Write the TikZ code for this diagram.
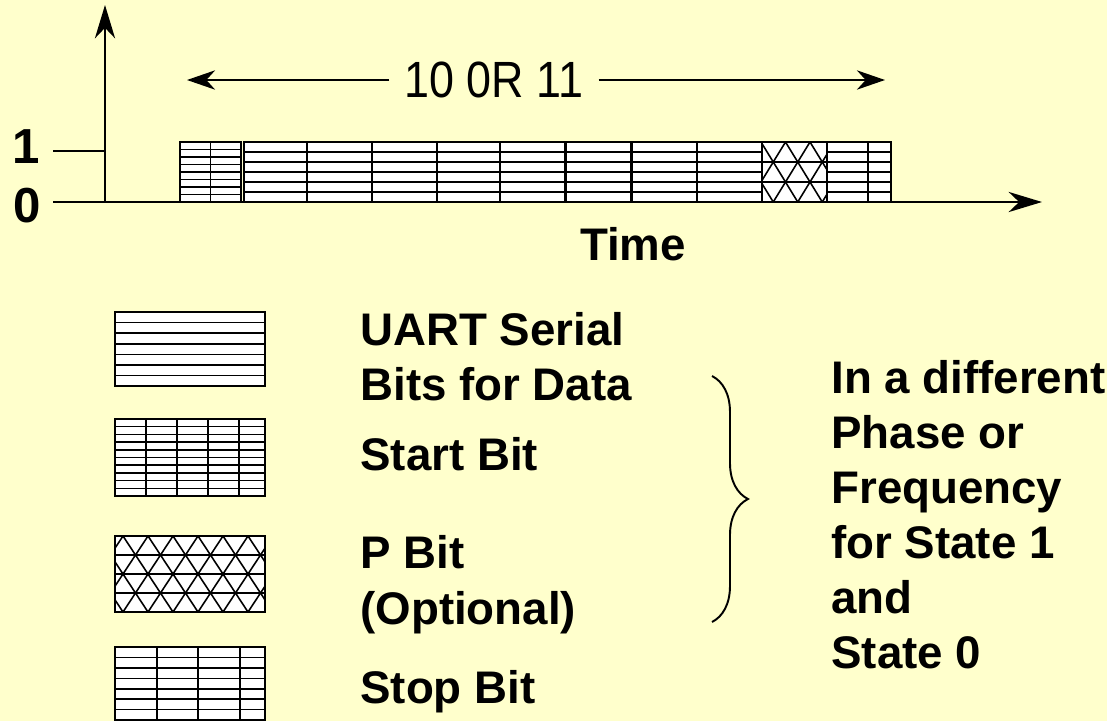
\documentclass[tikz,border=0pt]{standalone}
\usepackage{fontspec}
\setmainfont{Liberation Sans}
\newfontfamily\narrowfont[FakeStretch=0.88]{Liberation Sans}
\usetikzlibrary{arrows.meta,decorations.pathreplacing}
\definecolor{paper}{HTML}{FFFFCC}

\begin{document}
\begin{tikzpicture}
	[x=0.02cm,y=0.02cm,
		axis/.style={line width=1.1pt,-{Stealth[length=19pt,width=11.5pt,inset=6pt]}},
		spanarrow/.style={line width=1pt,-{Stealth[length=16pt,width=11pt,inset=5pt]}},
		cell/.style={draw,line width=1.6pt,fill=white},
		outline/.style={draw,line width=1.6pt},
		grid/.style={line width=0.9pt},
		txt/.style={font=\bfseries\fontsize{26}{30}\selectfont,anchor=base west,inner sep=0pt},
		digit/.style={font=\bfseries\fontsize{28}{32}\selectfont,anchor=base,inner sep=0pt}]

	\fill[paper] (0,0) rectangle (1107,-721);
	\useasboundingbox (0,0) rectangle (1107,-721);

	% axes
	\coordinate (origin) at (105,-202);
	\coordinate (ytip) at (105,-5);
	\coordinate (xstart) at (53,-202);
	\coordinate (xtip) at (1042,-202);
	\coordinate (onetick) at (53,-151);
	\coordinate (oneaxis) at (105,-151);
	\draw[axis] (origin) -- (ytip);
	\draw[axis] (xstart) -- (xtip);
	\draw[line width=1.1pt] (onetick) -- (oneaxis);
	\node[digit] (one) at (26,-163) {1};
	\node[digit] (zero) at (27,-222) {0};
	\node[txt,anchor=base] (time) at (633,-260) {Time};

	% frame length
	\node[font=\narrowfont\fontsize{29}{32}\selectfont,inner xsep=0.3cm] (span) at (494,-80) {10 0R 11};
	\coordinate (spanL) at (187,-80);
	\coordinate (spanR) at (885,-80);
	\draw[spanarrow] (span) -- (spanL);
	\draw[spanarrow] (span) -- (spanR);

	% start bit
	\draw[cell] (180,-142) rectangle (241,-202);
	\foreach \y in {149.5,157,...,194.5} \draw[grid] (180,-\y) -- (241,-\y);
	\draw[grid] (210.5,-142) -- (210.5,-202);
	% data bits
	\foreach \x in {244,307,372,437,500,566,632,697} {
		\draw[cell] (\x,-142) rectangle ++(65,-60);
		\foreach \y in {152,162,...,192} \draw[grid] (\x,-\y) -- ++(65,0);
	}
	% parity bit
	\fill[white] (762,-142) rectangle (827,-202);
	\begin{scope}
		\clip (762,-142) rectangle (827,-202);
		\foreach \k in {-2,...,5}
			\draw[grid] (761+\k*24.5,-142) -- ++(36.75,-60) (761+\k*24.5,-142) -- ++(-36.75,-60);
		\foreach \y in {162,182} \draw[grid] (762,-\y) -- (827,-\y);
	\end{scope}
	\draw[outline] (762,-142) rectangle (827,-202);
	% stop bit
	\draw[cell] (827,-142) rectangle (891,-202);
	\foreach \y in {152,162,...,192} \draw[grid] (827,-\y) -- (891,-\y);
	\draw[grid] (868,-142) -- (868,-202);

	% legend: data
	\draw[cell] (115,-312) rectangle (265,-386);
	\foreach \k in {1,...,6} \draw[grid] (115,{-312-\k*74/7}) -- ++(150,0);
	% legend: start
	\draw[cell] (115,-419) rectangle (265,-496);
	\foreach \k in {1,...,9} \draw[grid] (115,{-419-\k*7.7}) -- ++(150,0);
	\foreach \x in {146,177,208,239} \draw[grid] (\x,-419) -- (\x,-496);
	% legend: parity
	\fill[white] (115,-536) rectangle (265,-612);
	\begin{scope}
		\clip (115,-536) rectangle (265,-612);
		\foreach \k in {-2,...,8}
			\draw[grid] (123+\k*25,-536) -- ++(50,-76) (123+\k*25,-536) -- ++(-50,-76);
		\foreach \y in {555,574,593} \draw[grid] (115,-\y) -- (265,-\y);
	\end{scope}
	\draw[outline] (115,-536) rectangle (265,-612);
	% legend: stop
	\draw[cell] (115,-647) rectangle (265,-720);
	\foreach \k in {1,...,6} \draw[grid] (115,{-647-\k*73/7}) -- ++(150,0);
	\foreach \x in {157,198,240} \draw[grid] (\x,-647) -- (\x,-720);

	\node[txt] (uart) at (360,-345) {UART Serial};
	\node[txt] (bits) at (360,-400) {Bits for Data};
	\node[txt] (start) at (360,-470) {Start Bit};
	\node[txt] (pbit) at (360,-568) {P Bit};
	\node[txt] (optional) at (360,-624) {(Optional)};
	\node[txt] (stop) at (360,-703) {Stop Bit};

	% note on the right
	\draw[line width=1.1pt,decorate,decoration={brace,amplitude=0.72cm}]
		(712,-376) -- (712,-622);
	\foreach \t [count=\i] in {In a different,Phase or,Frequency,for State 1,and,State 0}
		\node[txt] (note\i) at (831,{-393-55*(\i-1)}) {\t};
\end{tikzpicture}
\end{document}
